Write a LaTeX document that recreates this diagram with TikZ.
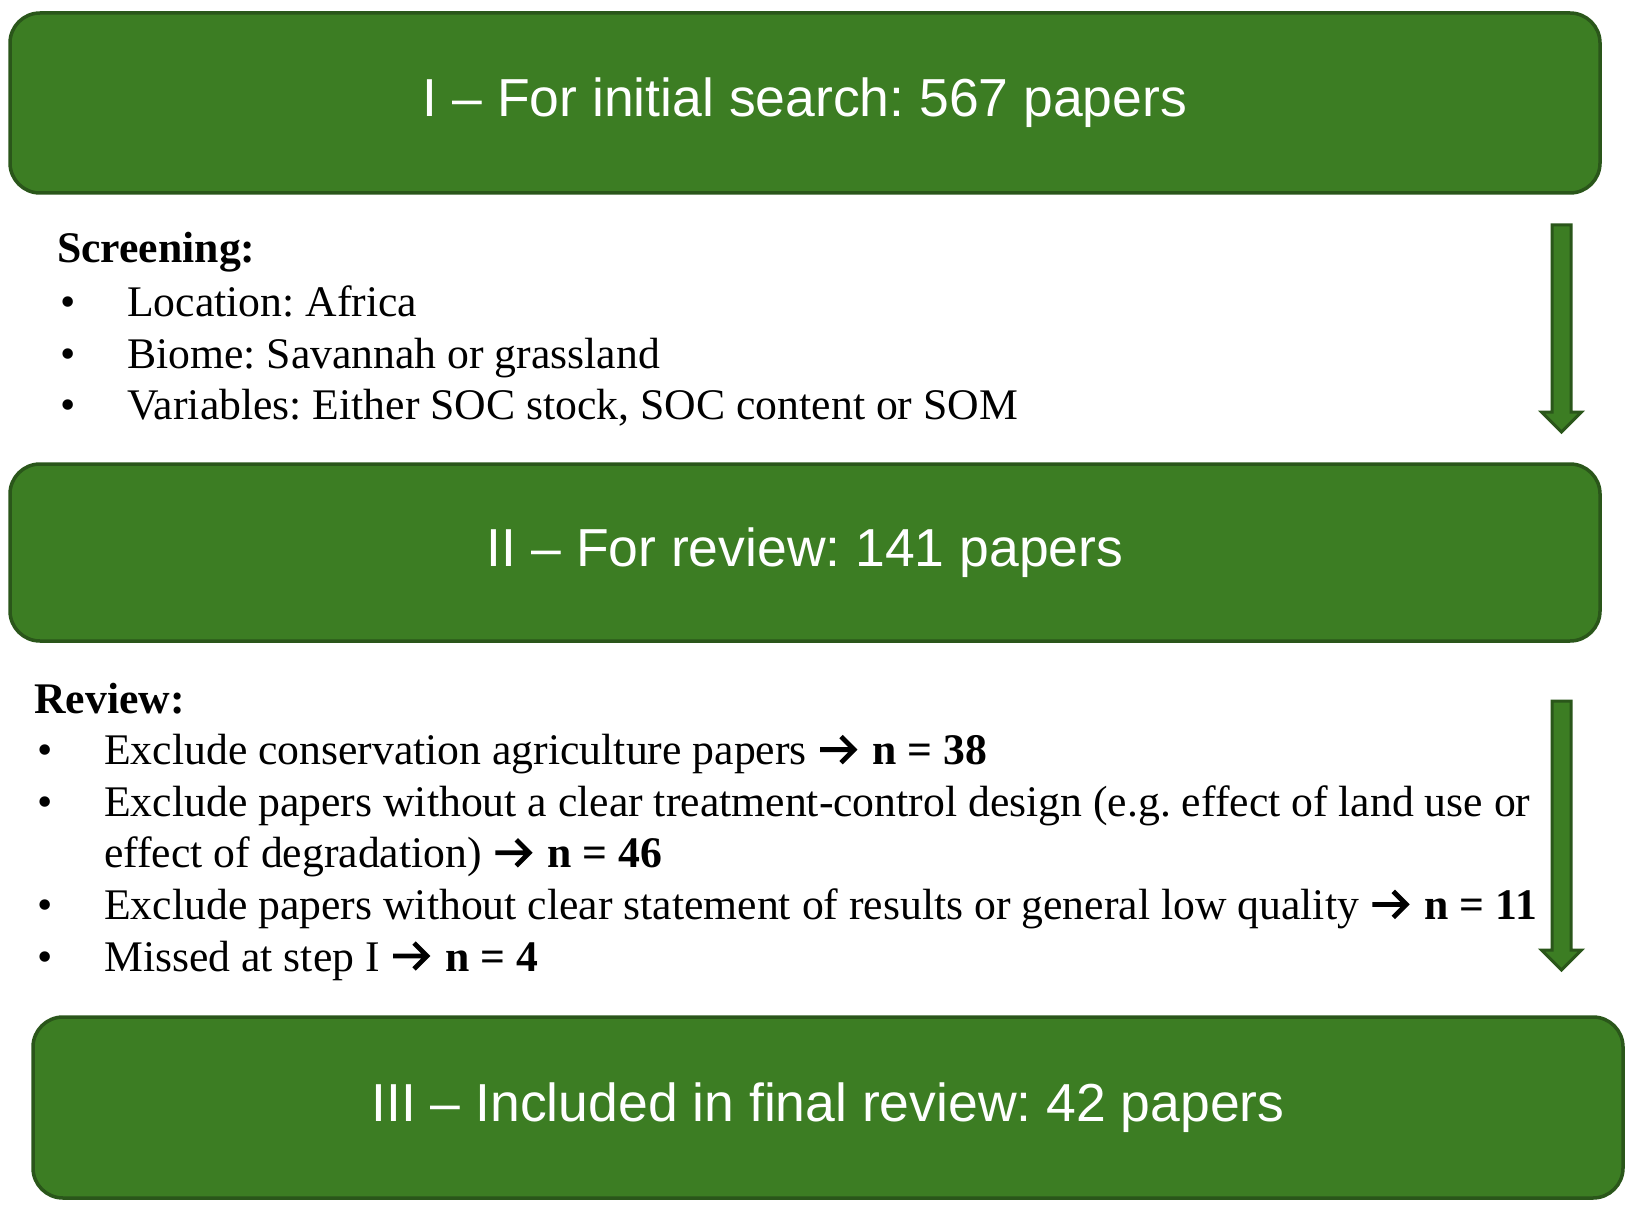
\documentclass[tikz,border=0pt]{standalone}
\usepackage{fontspec}
\setmainfont{Liberation Serif}
\newfontfamily\boxfont{Liberation Sans}
\usetikzlibrary{positioning}
\definecolor{leaf}{RGB}{60,125,35}
\definecolor{darkleaf}{RGB}{42,86,26}
\frenchspacing
% thick arrow used inside the list lines
\newcommand\toarrow{\tikz[baseline=0pt]\draw[line width=4.8pt,line join=miter]
  (1pt,15pt) -- (35pt,15pt) (22pt,28pt) -- (35pt,15pt) -- (22pt,2pt);\kern5pt}

\begin{document}
\begin{tikzpicture}[x=1pt,y=-1pt,
    stepbox/.style={draw=darkleaf,fill=leaf,line width=3.5pt,rounded corners=30pt,
      text=white,font=\boxfont\fontsize{53.5}{64}\selectfont,minimum width=1590pt},
    listtext/.style={anchor=base west,inner sep=0pt,font=\fontsize{43.7}{52}\selectfont},
    flowarrow/.style={draw=darkleaf,fill=leaf,line width=3pt,line join=miter}]
  \useasboundingbox (0,0) rectangle (1629,1222);

  % the three steps
  \node[stepbox,minimum height=180pt] (initial) at (805,103) {I – For initial search: 567 papers};
  \node[stepbox,minimum height=177pt] (forreview) at (805,552.5) {II – For review: 141 papers};
  \node[stepbox,minimum height=181pt] (final) at (828,1107.5) {III – Included in final review: 42 papers};

  % screening criteria
  \node[listtext] (screenhead) at (57,263) {\textbf{Screening:}};
  \foreach \i/\txt in {1/{Location: Africa},
                       2/{Biome: Savannah or grassland},
                       3/{Variables: Either SOC stock, SOC content or SOM}} {
    \node[listtext] (sbul\i) at (60,264.5+51.8*\i) {•};
    \node[listtext] (stxt\i) at (127,264.5+51.8*\i) {\txt};
  }

  % review criteria
  \node[listtext] (revhead) at (34,713) {\textbf{Review:}};
  \foreach \i in {1,2,4,5}
    \node[listtext] (rbul\i) at (37,713+51.6*\i) {•};
  \foreach \i/\txt in {1/{Exclude conservation agriculture papers \toarrow\ \textbf{n = 38}},
                       2/{Exclude papers without a clear treatment-control design (e.g. effect of land use or},
                       3/{effect of degradation) \toarrow\ \textbf{n = 46}},
                       4/{Exclude papers without clear statement of results or general low quality \toarrow\ \textbf{n = 11}},
                       5/{Missed at step I \toarrow\ \textbf{n = 4}}}
    \node[listtext] (rtxt\i) at (104,713+51.6*\i) {\txt};

  % block arrows on the right
  \foreach \top/\tip [count=\k] in {225/432,701/970} {
    \coordinate (atop\k) at (1561.5,\top);
    \coordinate (atip\k) at (1561.5,\tip);
    \draw[flowarrow] (1552,\top) -- (1571,\top) -- (1571,\tip-20) -- (1581.5,\tip-20)
      -- (atip\k) -- (1541.5,\tip-20) -- (1552,\tip-20) -- cycle;
  }
\end{tikzpicture}
\end{document}
